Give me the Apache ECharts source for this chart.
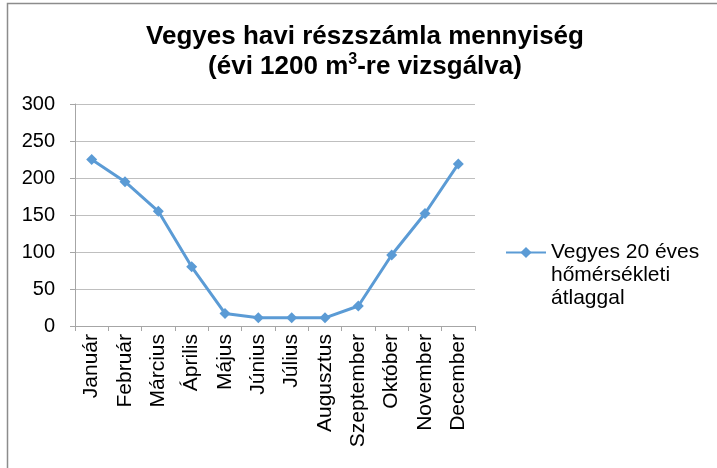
<!DOCTYPE html>
<html>
<head>
<meta charset="utf-8">
<script src="https://cdn.jsdelivr.net/npm/echarts@6/dist/echarts.min.js"></script>
<style>html,body{margin:0;padding:0;background:#fff}#c{width:717px;height:468px}</style>
</head>
<body>
<div id="c"></div>
<script>
var categories = ['Január','Február','Március','Április','Május','Június','Július','Augusztus','Szeptember','Október','November','December'];
var seriesName = 'Vegyes 20 éves\nhőmérsékleti\nátlaggal';
var values = [225, 195, 155, 80, 17, 11, 11, 11, 27, 96, 152, 219];
var yTicks = [0, 50, 100, 150, 200, 250, 300];

var FONT = '"Liberation Sans", Arial, sans-serif';
var chart = echarts.init(document.getElementById('c'));
chart.setOption({
  animation: false,
  backgroundColor: '#fff',
  textStyle: { fontFamily: FONT },
  graphic: [{
    type: 'rect', shape: { x: 7.5, y: 3.5, width: 800, height: 600 },
    style: { fill: 'none', stroke: '#8c8c8c', lineWidth: 1.5 }, silent: true
  }],
  title: {
    text: '{a|Vegyes havi részszámla mennyiség}\n{a|(évi 1200 m}{s|3}{a|-re vizsgálva)}',
    left: 360, top: 17, textAlign: 'center',
    textStyle: {
      fontFamily: FONT,
      rich: {
        a: { fontFamily: FONT, fontSize: 26, fontWeight: 'bold', color: '#000', lineHeight: 30 },
        s: { fontFamily: FONT, fontSize: 16, fontWeight: 'bold', color: '#000', lineHeight: 18, verticalAlign: 'top' }
      }
    }
  },
  grid: { left: 75, right: 242, top: 104, bottom: 142, containLabel: false },
  legend: {
    data: [seriesName],
    orient: 'vertical',
    left: 505, top: 195,
    padding: 0,
    itemWidth: 40, itemHeight: 14,
    itemGap: 0,
    formatter: function (name) { return '\n\n' + name; },
    textStyle: { fontFamily: FONT, fontSize: 21, color: '#000', lineHeight: 23 }
  },
  xAxis: {
    type: 'category',
    data: categories,
    boundaryGap: true,
    axisLine: { lineStyle: { color: '#a6a6a6', width: 1 } },
    axisTick: { show: true, length: 5, lineStyle: { color: '#a6a6a6' } },
    axisLabel: { rotate: 90, margin: 8, fontFamily: FONT, fontSize: 21, color: '#000', interval: 0 },
    splitLine: { show: false }
  },
  yAxis: {
    type: 'value',
    min: yTicks[0], max: yTicks[yTicks.length - 1], interval: yTicks[1] - yTicks[0],
    axisLine: { show: true, lineStyle: { color: '#a6a6a6', width: 1 } },
    axisTick: { show: true, length: 5, lineStyle: { color: '#a6a6a6' } },
    axisLabel: { margin: 20, fontFamily: FONT, fontSize: 20, color: '#000' },
    splitLine: { show: true, lineStyle: { color: '#bfbfbf', width: 1 } }
  },
  series: [{
    name: seriesName,
    type: 'line',
    data: values,
    symbol: 'diamond',
    symbolSize: 11,
    lineStyle: { color: '#5b9bd5', width: 3 },
    itemStyle: { color: '#5b9bd5' }
  }]
});
</script>
</body>
</html>
